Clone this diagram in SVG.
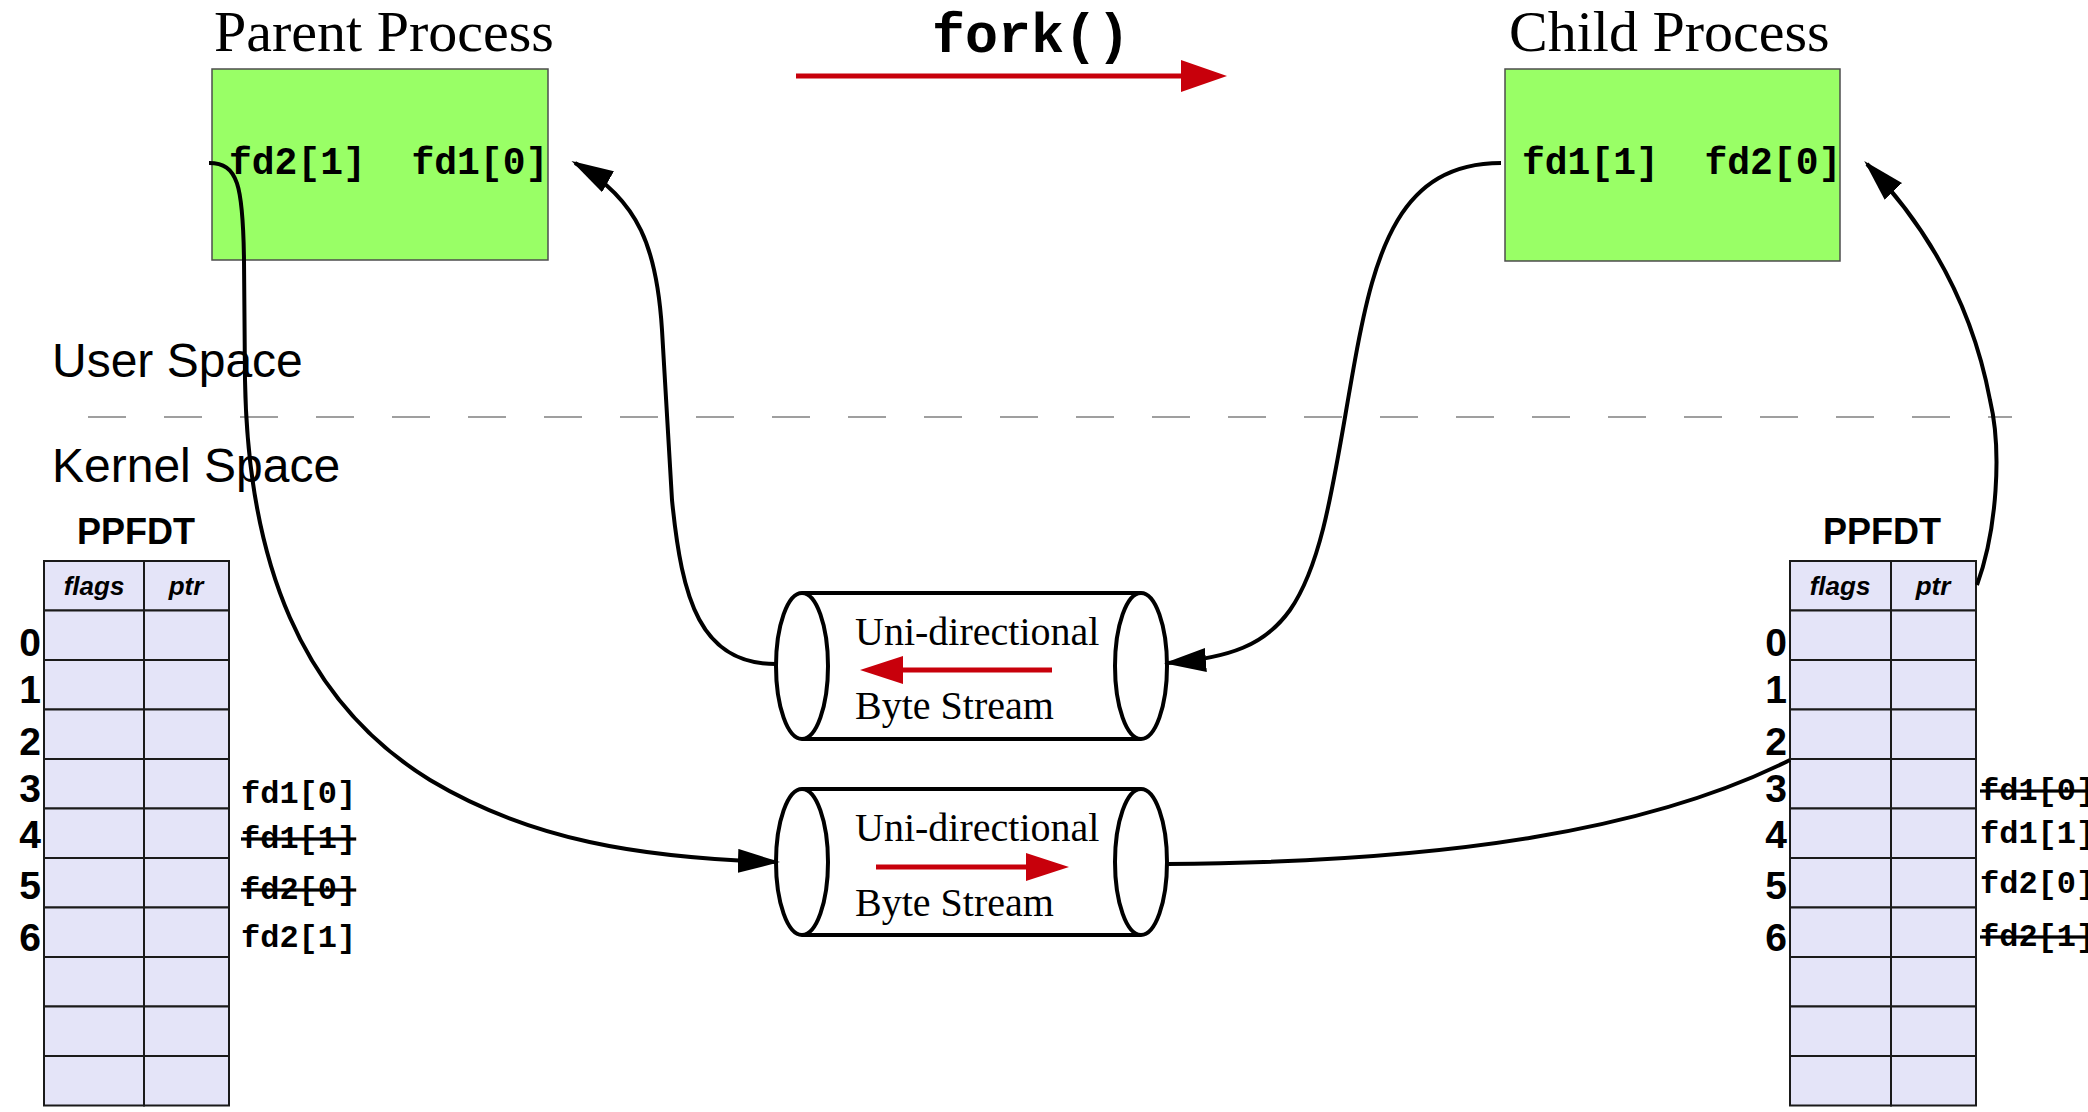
<svg xmlns="http://www.w3.org/2000/svg" width="2088" height="1112" viewBox="0 0 2088 1112">
<defs>
<marker id="ah" markerUnits="userSpaceOnUse" markerWidth="44" markerHeight="26" refX="38" refY="12" orient="auto">
<path d="M0,0 L42,12 L0,24 z" fill="#000"/>
</marker>
<style>
.title{font-family:"Liberation Serif",serif;font-size:58px;fill:#000}
.fork{font-family:"Liberation Mono",monospace;font-weight:bold;font-size:55px;fill:#000}
.fdbox{font-family:"Liberation Mono",monospace;font-weight:bold;font-size:38px;fill:#000}
.space{font-family:"Liberation Sans",sans-serif;font-size:48px;fill:#000}
.ppfdt{font-family:"Liberation Sans",sans-serif;font-weight:bold;font-size:36px;fill:#000}
.hdr{font-family:"Liberation Sans",sans-serif;font-weight:bold;font-style:italic;font-size:26px;fill:#000;text-anchor:middle}
.idx{font-family:"Liberation Sans",sans-serif;font-weight:bold;font-size:39px;fill:#000;text-anchor:end}
.fdl{font-family:"Liberation Mono",monospace;font-weight:bold;font-size:32px;fill:#000}
.strike{text-decoration:line-through}
.cyltxt{font-family:"Liberation Serif",serif;font-size:40px;fill:#000}
.proc{fill:#99ff66;stroke:#4d4d4d;stroke-width:1.5}
.cell{fill:#e4e4f8;stroke:#1a1a1a;stroke-width:2}
.cyl{fill:#fff;stroke:#000;stroke-width:4}
.conn{fill:none;stroke:#000;stroke-width:4}
.red{stroke:#c8000b;stroke-width:5;fill:none}
.redh{fill:#c8000b}
</style>
</defs>
<rect width="2088" height="1112" fill="#fff"/>

<g id="divider">
<line x1="88" y1="417" x2="2012" y2="417" stroke="#808080" stroke-width="1.5" stroke-dasharray="38 38"/>
<text class="space" x="52" y="377">User Space</text>
<text class="space" x="52" y="482">Kernel Space</text>
</g>

<g id="parent">
<text class="title" x="214" y="51">Parent Process</text>
<rect class="proc" x="212" y="69" width="336" height="191"/>
<text class="fdbox" x="229" y="174" xml:space="preserve">fd2[1]  fd1[0]</text>
</g>

<g id="fork">
<text class="fork" x="932" y="52">fork()</text>
<line class="red" x1="796" y1="76" x2="1185" y2="76" stroke-width="6"/>
<polygon class="redh" points="1181,60 1227,76 1181,92"/>
</g>

<g id="child">
<text class="title" x="1509" y="51">Child Process</text>
<rect class="proc" x="1505" y="69" width="335" height="192"/>
<text class="fdbox" x="1522" y="174" xml:space="preserve">fd1[1]  fd2[0]</text>
</g>

<g id="pipe1">
<rect x="802" y="593" width="339" height="146" fill="#fff"/>
<line class="cyl" x1="802" y1="593" x2="1141" y2="593"/>
<line class="cyl" x1="802" y1="739" x2="1141" y2="739"/>
<ellipse class="cyl" cx="802" cy="666" rx="26" ry="73"/>
<ellipse class="cyl" cx="1141" cy="666" rx="26" ry="73"/>
<text class="cyltxt" x="855" y="645">Uni-directional</text>
<text class="cyltxt" x="855" y="719">Byte Stream</text>
<line class="red" x1="1052" y1="670" x2="895" y2="670" stroke-width="4"/>
<polygon class="redh" points="903,656 860,670 903,684"/>
</g>

<g id="pipe2">
<rect x="802" y="789" width="339" height="146" fill="#fff"/>
<line class="cyl" x1="802" y1="789" x2="1141" y2="789"/>
<line class="cyl" x1="802" y1="935" x2="1141" y2="935"/>
<ellipse class="cyl" cx="802" cy="862" rx="26" ry="73"/>
<ellipse class="cyl" cx="1141" cy="862" rx="26" ry="73"/>
<text class="cyltxt" x="855" y="841">Uni-directional</text>
<text class="cyltxt" x="855" y="916">Byte Stream</text>
<line class="red" x1="876" y1="867" x2="1030" y2="867" stroke-width="4"/>
<polygon class="redh" points="1026,853 1069,867 1026,881"/>
</g>

<g id="ppfdt-parent">
<text class="ppfdt" x="77" y="544">PPFDT</text>
<g>
<rect class="cell" x="44" y="561" width="100" height="49.5"/><rect class="cell" x="144" y="561" width="85" height="49.5"/>
<rect class="cell" x="44" y="610.5" width="100" height="49.5"/><rect class="cell" x="144" y="610.5" width="85" height="49.5"/>
<rect class="cell" x="44" y="660" width="100" height="49.5"/><rect class="cell" x="144" y="660" width="85" height="49.5"/>
<rect class="cell" x="44" y="709.5" width="100" height="49.5"/><rect class="cell" x="144" y="709.5" width="85" height="49.5"/>
<rect class="cell" x="44" y="759" width="100" height="49.5"/><rect class="cell" x="144" y="759" width="85" height="49.5"/>
<rect class="cell" x="44" y="808.5" width="100" height="49.5"/><rect class="cell" x="144" y="808.5" width="85" height="49.5"/>
<rect class="cell" x="44" y="858" width="100" height="49.5"/><rect class="cell" x="144" y="858" width="85" height="49.5"/>
<rect class="cell" x="44" y="907.5" width="100" height="49.5"/><rect class="cell" x="144" y="907.5" width="85" height="49.5"/>
<rect class="cell" x="44" y="957" width="100" height="49.5"/><rect class="cell" x="144" y="957" width="85" height="49.5"/>
<rect class="cell" x="44" y="1006.5" width="100" height="49.5"/><rect class="cell" x="144" y="1006.5" width="85" height="49.5"/>
<rect class="cell" x="44" y="1056" width="100" height="49.5"/><rect class="cell" x="144" y="1056" width="85" height="49.5"/>
</g>
<text class="hdr" x="94" y="595">flags</text>
<text class="hdr" x="186" y="595">ptr</text>
<text class="idx" x="41" y="656">0</text>
<text class="idx" x="41" y="703">1</text>
<text class="idx" x="41" y="755">2</text>
<text class="idx" x="41" y="802">3</text>
<text class="idx" x="41" y="848">4</text>
<text class="idx" x="41" y="899">5</text>
<text class="idx" x="41" y="951">6</text>
<text class="fdl" x="241" y="803">fd1[0]</text>
<text class="fdl strike" x="241" y="848">fd1[1]</text>
<text class="fdl strike" x="241" y="899">fd2[0]</text>
<text class="fdl" x="241" y="947">fd2[1]</text>
</g>

<g id="ppfdt-child">
<text class="ppfdt" x="1823" y="544">PPFDT</text>
<g>
<rect class="cell" x="1790" y="561" width="101" height="49.5"/><rect class="cell" x="1891" y="561" width="85" height="49.5"/>
<rect class="cell" x="1790" y="610.5" width="101" height="49.5"/><rect class="cell" x="1891" y="610.5" width="85" height="49.5"/>
<rect class="cell" x="1790" y="660" width="101" height="49.5"/><rect class="cell" x="1891" y="660" width="85" height="49.5"/>
<rect class="cell" x="1790" y="709.5" width="101" height="49.5"/><rect class="cell" x="1891" y="709.5" width="85" height="49.5"/>
<rect class="cell" x="1790" y="759" width="101" height="49.5"/><rect class="cell" x="1891" y="759" width="85" height="49.5"/>
<rect class="cell" x="1790" y="808.5" width="101" height="49.5"/><rect class="cell" x="1891" y="808.5" width="85" height="49.5"/>
<rect class="cell" x="1790" y="858" width="101" height="49.5"/><rect class="cell" x="1891" y="858" width="85" height="49.5"/>
<rect class="cell" x="1790" y="907.5" width="101" height="49.5"/><rect class="cell" x="1891" y="907.5" width="85" height="49.5"/>
<rect class="cell" x="1790" y="957" width="101" height="49.5"/><rect class="cell" x="1891" y="957" width="85" height="49.5"/>
<rect class="cell" x="1790" y="1006.5" width="101" height="49.5"/><rect class="cell" x="1891" y="1006.5" width="85" height="49.5"/>
<rect class="cell" x="1790" y="1056" width="101" height="49.5"/><rect class="cell" x="1891" y="1056" width="85" height="49.5"/>
</g>
<text class="hdr" x="1840" y="595">flags</text>
<text class="hdr" x="1933" y="595">ptr</text>
<text class="idx" x="1787" y="656">0</text>
<text class="idx" x="1787" y="703">1</text>
<text class="idx" x="1787" y="755">2</text>
<text class="idx" x="1787" y="802">3</text>
<text class="idx" x="1787" y="848">4</text>
<text class="idx" x="1787" y="899">5</text>
<text class="idx" x="1787" y="951">6</text>
<text class="fdl strike" x="1980" y="800">fd1[0]</text>
<text class="fdl" x="1980" y="843">fd1[1]</text>
<text class="fdl" x="1980" y="893">fd2[0]</text>
<text class="fdl strike" x="1980" y="946">fd2[1]</text>
</g>

<g id="connectors">
<path class="conn" d="M209,163 C238,163 243,185 244,260 L245,380 C248,560 300,700 430,780 C530,840 640,858 776,862" marker-end="url(#ah)"/>
<path class="conn" d="M776,664 C700,664 682,600 672,500 L662,330 C657,250 640,200 575,163" marker-end="url(#ah)"/>
<path class="conn" d="M1501,163 C1400,163 1375,250 1355,360 C1335,470 1325,560 1290,610 C1265,645 1230,658 1168,663" marker-end="url(#ah)"/>
<path class="conn" d="M1167,864 C1450,862 1650,830 1790,760"/>
<path class="conn" d="M1977,585 C1997,530 2002,450 1990,400 C1975,320 1940,240 1867,164" marker-end="url(#ah)"/>
</g>
</svg>
